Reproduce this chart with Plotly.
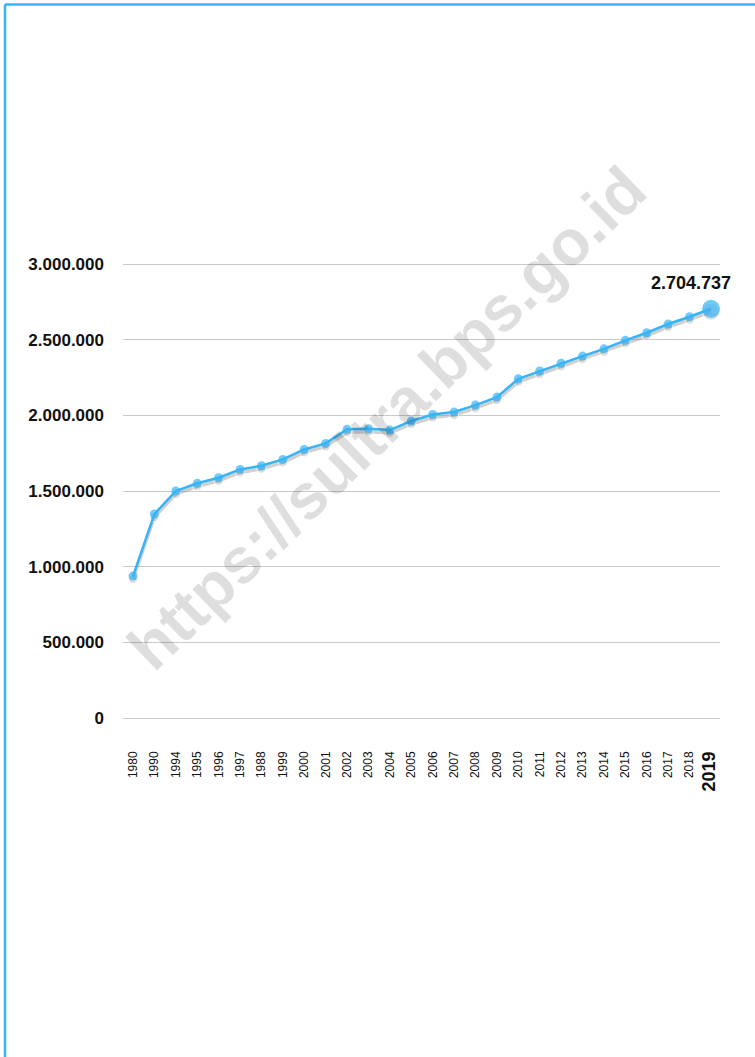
import plotly.graph_objects as go

years = ["1980", "1990", "1994", "1995", "1996", "1997", "1988", "1999", "2000", "2001",
         "2002", "2003", "2004", "2005", "2006", "2007", "2008", "2009", "2010", "2011",
         "2012", "2013", "2014", "2015", "2016", "2017", "2018", "2019"]
population = [938000, 1348000, 1500000, 1551000, 1588000, 1643000, 1667000, 1709000, 1775000, 1815000,
              1908000, 1912000, 1903000, 1963000, 2006000, 2022000, 2068000, 2121000, 2242000, 2293000,
              2344000, 2392000, 2440000, 2496000, 2546000, 2604000, 2652000, 2704737]
y_ticks = [0, 500000, 1000000, 1500000, 2000000, 2500000, 3000000]
y_tick_labels = ["0", "500.000", "1.000.000", "1.500.000", "2.000.000", "2.500.000", "3.000.000"]
last_label = "2.704.737"

W, H = 755, 1057
Y_TOP_TICK = 3000000
PX_PER_UNIT = 454 / Y_TOP_TICK          # 0 at y=718, 3.000.000 at y=264
Y_MAX = Y_TOP_TICK * 1.02               # small headroom so top gridline shows
ML, MR, MB = 123, 35, 1057 - 718
MT = 718 - Y_MAX * PX_PER_UNIT
PW, PH = W - ML - MR, H - MT - MB
BLUE = "#36b4f7"

shadow_offset = 3 / PX_PER_UNIT  # 3 px drop shadow
shadow = [v - shadow_offset for v in population]

x_labels = years[:-1] + ['<b><span style="font-size:18px">' + years[-1] + '</span></b>']
idx = list(range(len(years)))
n = len(years)
step = (711 - 133) / (n - 1)

fig = go.Figure()
fig.add_trace(go.Scatter(
    x=idx, y=shadow, mode="lines+markers",
    line=dict(color="rgba(150,150,150,0.45)", width=3.5),
    marker=dict(size=[9] * (n - 1) + [17], color="rgba(150,150,150,0.45)"),
    hoverinfo="skip", showlegend=False, cliponaxis=False))
fig.add_trace(go.Scatter(
    x=idx, y=population, mode="lines+markers",
    line=dict(color=BLUE, width=2.5),
    marker=dict(size=[9] * (n - 1) + [18], color=BLUE, line=dict(width=0)),
    showlegend=False, cliponaxis=False))

fig.add_annotation(x=idx[-1], y=population[-1], text="<b>" + last_label + "</b>",
                   showarrow=False, xanchor="center", yanchor="bottom",
                   xshift=-20, yshift=14,
                   font=dict(family="Liberation Sans, Arial, sans-serif", size=18, color="#111"))

def px_x(p):
    return (p - ML) / PW

def px_y(p):
    return (MT + PH - p) / PH

# watermark
fig.add_annotation(xref="paper", yref="paper",
                   x=px_x(387), y=px_y(418),
                   text="<b>https://sultra.bps.go.id</b>", showarrow=False,
                   textangle=-44, xanchor="center", yanchor="middle",
                   font=dict(family="Liberation Sans, Arial, sans-serif", size=64,
                             color="rgba(0,0,0,0.13)"))

# page border (top and left)
fig.add_shape(type="line", xref="paper", yref="paper",
              x0=px_x(5), x1=px_x(W + 5), y0=px_y(4.5), y1=px_y(4.5),
              line=dict(color=BLUE, width=2.5))
fig.add_shape(type="line", xref="paper", yref="paper",
              x0=px_x(5), x1=px_x(5), y0=px_y(4.5), y1=px_y(H + 5),
              line=dict(color=BLUE, width=2.5))

fig.update_layout(
    width=W, height=H,
    margin=dict(l=ML, r=MR, t=MT, b=MB, autoexpand=False),
    paper_bgcolor="white", plot_bgcolor="white",
    font=dict(family="Liberation Sans, Arial, sans-serif", color="#111"),
    xaxis=dict(
        tickvals=idx, ticktext=x_labels, tickangle=-90,
        range=[-10 / step, (n - 1) + 9 / step],
        showgrid=False, zeroline=False, showline=False, ticks="",
        ticklabelstandoff=30, tickfont=dict(size=12, color="#111"),
    ),
    yaxis=dict(
        range=[0, Y_MAX], tickvals=y_ticks, ticktext=y_tick_labels,
        showgrid=True, gridcolor="#c9c9c9", gridwidth=1,
        zeroline=True, zerolinecolor="#c9c9c9", zerolinewidth=1, showline=False, ticks="",
        ticklabelstandoff=18,
        tickfont=dict(size=17, color="#111", weight="bold"),
    ),
)

fig.write_html("out.html", config={"displayModeBar": False},
               post_script="document.body.style.margin='0';")
